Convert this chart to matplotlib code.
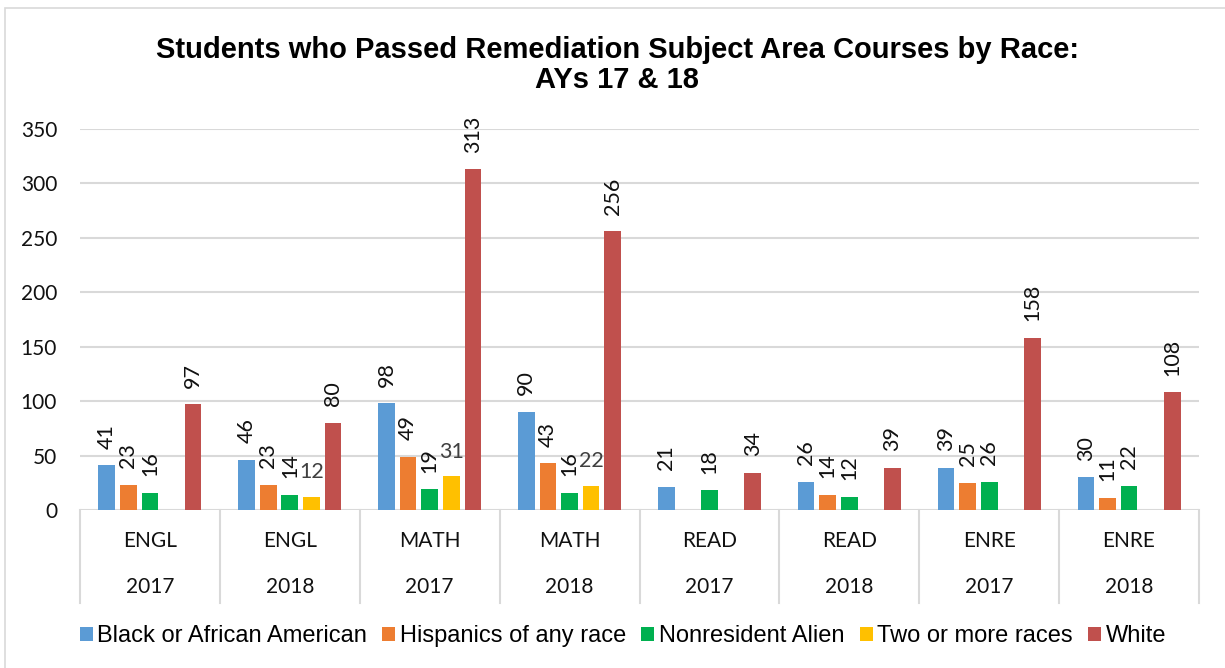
import numpy as np
import matplotlib.pyplot as plt
from matplotlib.patches import Patch, Rectangle

# datos
materias = ['ENGL', 'ENGL', 'MATH', 'MATH', 'READ', 'READ', 'ENRE', 'ENRE']
anios = ['2017', '2018', '2017', '2018', '2017', '2018', '2017', '2018']
series = ['Black or African American', 'Hispanics of any race', 'Nonresident Alien',
          'Two or more races', 'White']
negros = [41, 46, 98, 90, 21, 26, 39, 30]
hispanos = [23, 23, 49, 43, np.nan, 14, 25, 11]
no_residentes = [16, 14, 19, 16, 18, 12, 26, 22]
dos_o_mas = [np.nan, 12, 31, 22, np.nan, np.nan, np.nan, np.nan]
blancos = [97, 80, 313, 256, 34, 39, 158, 108]
colores = ['#5B9BD5', '#ED7D31', '#00B050', '#FFC000', '#C0504D']

valores = [negros, hispanos, no_residentes, dos_o_mas, blancos]

W, H = 1225, 668
fig = plt.figure(figsize=(W / 100, H / 100), dpi=100)
fig.patches.append(Rectangle((5 / W, -0.05), 1.1, 1 - 8 / H + 0.05, transform=fig.transFigure,
                             fill=False, edgecolor='#D9D9D9', linewidth=1.2))

ax = fig.add_axes([80 / W, (H - 510) / H, 1119 / W, 381 / H])
x = np.arange(len(materias))
paso = 0.1544
ancho = 0.119

for k, (vals, col) in enumerate(zip(valores, colores)):
    pos = x + (k - 2) * paso
    ax.bar(pos, vals, width=ancho, color=col, zorder=2)
    for p, v in zip(pos, vals):
        if np.isnan(v):
            continue
        if k == 3:
            ax.annotate(str(int(v)), (p, v), xytext=(0, 13.5), textcoords='offset points',
                        ha='center', va='baseline', fontsize=15.5, family='Lato', color='#404040')
        else:
            ax.annotate(str(int(v)), (p, v), xytext=(0, 12), textcoords='offset points',
                        ha='center', va='bottom', rotation=90, fontsize=15.5, family='Lato',
                        color='#111111')

ax.set_xlim(-0.5, len(materias) - 0.5)
ax.set_ylim(0, 350)
ax.set_yticks(range(0, 351, 50))
ax.set_xticks([])
for s in ax.spines.values():
    s.set_visible(False)
ax.yaxis.grid(True, color='#D9D9D9', linewidth=1.5)
ax.set_axisbelow(True)
ax.tick_params(axis='y', length=0, pad=16.5, labelsize=15, labelcolor='#111111')
for lab in ax.get_yticklabels():
    lab.set_family('Lato')

# tabla de categorias debajo del eje
tr = ax.get_xaxis_transform()
for i in range(len(materias) + 1):
    ax.plot([i - 0.5, i - 0.5], [0, -0.244], transform=tr, color='#D9D9D9',
            linewidth=1.5, clip_on=False)
for i in range(len(materias)):
    ax.text(i, -0.0814, materias[i], transform=tr, ha='center', va='center',
            fontsize=15, family='Lato', color='#111111')
    ax.text(i, -0.202, anios[i], transform=tr, ha='center', va='center',
            fontsize=15, family='Lato', color='#111111')

fig.text(617 / W, 1 - 58 / H, 'Students who Passed Remediation Subject Area Courses by Race:',
         ha='center', va='baseline', fontsize=21, fontweight='bold', family='Liberation Sans')
fig.text(617 / W, 1 - 88 / H, 'AYs 17 & 18', ha='center', va='baseline', fontsize=21,
         fontweight='bold', family='Liberation Sans')

handles = [Patch(facecolor=c) for c in colores]
fig.legend(handles, series, loc='center', bbox_to_anchor=(623 / W, 1 - 636 / H), ncol=5,
           frameon=False, prop={'family': 'Liberation Sans', 'size': 17},
           handlelength=0.55, handleheight=0.55, handletextpad=0.2, columnspacing=0.64,
           borderpad=0, borderaxespad=0)

fig.savefig('out.png', dpi=100)
